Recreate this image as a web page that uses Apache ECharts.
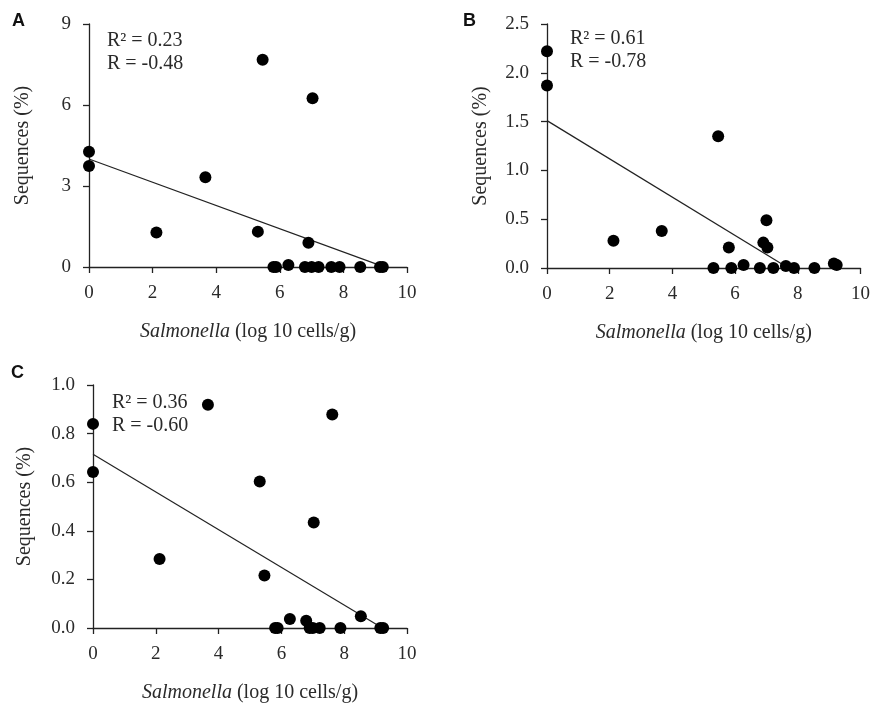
<!DOCTYPE html>
<html>
<head>
<meta charset="utf-8">
<script src="https://cdn.jsdelivr.net/npm/echarts@6/dist/echarts.min.js"></script>
<style>
    html, body { margin: 0; padding: 0; background: #fff; }
    #chart { width: 873px; height: 706px; }
</style>
</head>
<body>
<div id="chart"></div>
<script>
    // Salmonella counts (log 10 cells/g), same samples in every panel
    var salmonellaLog = [0, 0, 2.12, 3.66, 5.31, 5.46, 5.80, 5.88, 6.27, 6.79, 6.90, 7.00, 7.03, 7.22, 7.62, 7.88, 8.53, 9.15, 9.24];
    // Sequences (%) per panel
    var seqA = [4.27, 3.74, 1.28, 3.32, 1.31, 7.68, 0, 0, 0.07, 0, 0.90, 0, 6.25, 0, 0, 0, 0, 0, 0];
    var seqB = [2.22, 1.87, 0.28, 0.38, 0, 1.35, 0.21, 0, 0.03, 0, 0.26, 0.49, 0.21, 0, 0.02, 0, 0, 0.045, 0.03];
    var seqC = [0.84, 0.642, 0.284, 0.919, 0.603, 0.216, 0, 0, 0.037, 0.03, 0, 0, 0.434, 0, 0.879, 0, 0.048, 0, 0];
    // trend line end points [x, y]
    var trendA = [[0, 4.0], [9.15, 0.06]];
    var trendB = [[0, 1.51], [7.7, 0]];
    var trendC = [[0, 0.715], [9.15, 0.005]];
    var statsA = ['R² = 0.23', 'R = -0.48'];
    var statsB = ['R² = 0.61', 'R = -0.78'];
    var statsC = ['R² = 0.36', 'R = -0.60'];
    var panelLetters = ['A', 'B', 'C'];

    var serif = '"Liberation Serif", "Times New Roman", serif';
    var txtColor = '#2a2a2a';

    function pairs(ys) {
        return salmonellaLog.map(function (x, i) { return [x, ys[i]]; });
    }

    function xAxisFor(idx) {
        return {
            gridIndex: idx, type: 'value', min: 0, max: 10, interval: 2,
            name: '{i|Salmonella} (log 10 cells/g)', nameLocation: 'middle', nameGap: 55,
            nameTextStyle: { fontFamily: serif, fontSize: 20, color: txtColor,
                rich: { i: { fontFamily: serif, fontSize: 20, fontStyle: 'italic', color: txtColor } } },
            axisLine: { onZero: false, lineStyle: { color: '#222', width: 1.3 } },
            axisTick: { show: true, inside: false, length: 6, lineStyle: { color: '#222', width: 1.3 } },
            axisLabel: { fontFamily: serif, fontSize: 19, color: txtColor, margin: 17 },
            splitLine: { show: false }
        };
    }

    function yAxisFor(idx, max, interval, decimals, gap) {
        return {
            gridIndex: idx, type: 'value', min: 0, max: max, interval: interval,
            name: 'Sequences (%)', nameLocation: 'middle', nameGap: gap, nameRotate: 90,
            nameTextStyle: { fontFamily: serif, fontSize: 20, color: txtColor },
            axisLine: { show: true, lineStyle: { color: '#222', width: 1.3 } },
            axisTick: { show: true, inside: false, length: 6, lineStyle: { color: '#222', width: 1.3 } },
            axisLabel: { fontFamily: serif, fontSize: 19, color: txtColor, margin: 18,
                formatter: function (v) { return v.toFixed(decimals); } },
            splitLine: { show: false }
        };
    }

    function scatterFor(idx, ys) {
        return {
            type: 'scatter', xAxisIndex: idx, yAxisIndex: idx,
            data: pairs(ys), symbolSize: 12, z: 3,
            itemStyle: { color: '#000', opacity: 1 }
        };
    }

    function trendFor(idx, pts) {
        return {
            type: 'line', xAxisIndex: idx, yAxisIndex: idx,
            data: pts, symbol: 'none', z: 2,
            lineStyle: { color: '#222', width: 1.2 }
        };
    }

    function statText(left, top, lines) {
        return {
            type: 'text', left: left, top: top,
            style: { text: lines.join('\n'), font: '20px ' + serif, fill: txtColor, lineHeight: 23 }
        };
    }

    function letter(left, top, t) {
        return {
            type: 'text', left: left, top: top,
            style: { text: t, font: 'bold 18px "Liberation Sans", Arial, sans-serif', fill: '#111' }
        };
    }

    var myChart = echarts.init(document.getElementById('chart'));
    myChart.setOption({
        animation: false,
        backgroundColor: '#fff',
        grid: [
            { left: 89, top: 24, width: 318, height: 243 },
            { left: 547, top: 24, width: 316, height: 244 },
            { left: 93, top: 385, width: 314, height: 243 }
        ],
        xAxis: [xAxisFor(0), xAxisFor(1), xAxisFor(2)],
        yAxis: [
            yAxisFor(0, 9, 3, 0, 56),
            yAxisFor(1, 2.5, 0.5, 1, 56),
            yAxisFor(2, 1, 0.2, 1, 58)
        ],
        series: [
            scatterFor(0, seqA), trendFor(0, trendA),
            scatterFor(1, seqB), trendFor(1, trendB),
            scatterFor(2, seqC), trendFor(2, trendC)
        ],
        graphic: [
            letter(12, 12, panelLetters[0]),
            letter(463, 12, panelLetters[1]),
            letter(11, 364, panelLetters[2]),
            statText(107, 29, statsA),
            statText(570, 27, statsB),
            statText(112, 391, statsC)
        ]
    });
</script>
</body>
</html>
